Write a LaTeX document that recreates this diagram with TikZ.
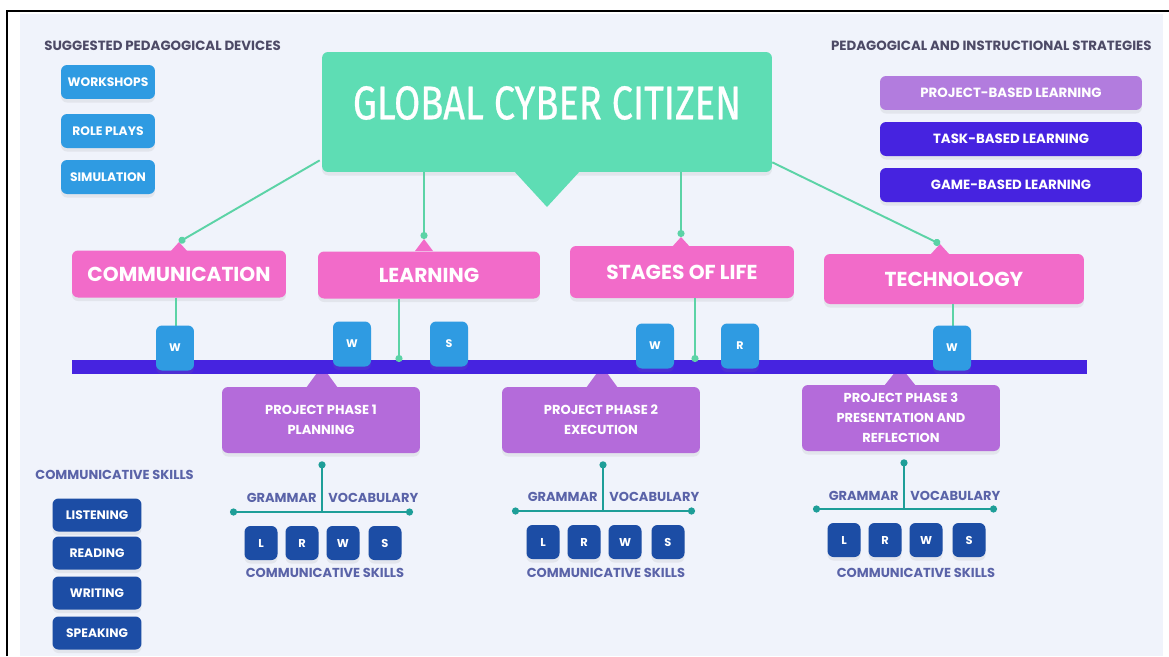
\documentclass[tikz,border=0pt]{standalone}
\usepackage{fontspec}
\setmainfont{Poppins}
\newfontfamily\titlefont[FakeStretch=0.8,FakeBold=0.6]{Fira Sans}
\usepackage{tikz}
\usetikzlibrary{arrows.meta}
\usetikzlibrary{shadows}

\definecolor{panelbg}{HTML}{F0F3FB}
\definecolor{titlegreen}{HTML}{5EDDB4}
\definecolor{linkgreen}{HTML}{5CD3A6}
\definecolor{pinkc}{HTML}{F26BC9}
\definecolor{purplec}{HTML}{B46BDA}
\definecolor{lilac}{HTML}{B27CDE}
\definecolor{violetc}{HTML}{4623E0}
\definecolor{skyblue}{HTML}{2F9BE2}
\definecolor{navyc}{HTML}{1C4DA5}
\definecolor{tealc}{HTML}{1E9E98}
\definecolor{headgray}{HTML}{4D4A66}
\definecolor{labelblue}{HTML}{5A63A8}

\begin{document}
\begin{tikzpicture}[x=0.02cm,y=-0.02cm,
        soft/.style={drop shadow={shadow xshift=0pt,shadow yshift=-2pt,opacity=0.12}},
        box/.style={rounded corners=0.12cm,inner sep=0pt,align=center,text=white,soft},
        heading/.style={inner sep=0pt,text=headgray,font=\fontsize{7.6}{8}\selectfont\bfseries},
        devicebox/.style={box,fill=skyblue,minimum width=1.88cm,minimum height=0.68cm,
            font=\fontsize{7}{8}\selectfont\bfseries},
        stratbox/.style={box,fill=violetc,minimum width=5.24cm,minimum height=0.68cm,
            font=\fontsize{7.6}{9}\selectfont\bfseries},
        topicbox/.style={box,fill=pinkc,minimum height=0.94cm,
            font=\fontsize{11.5}{13}\selectfont\bfseries},
        phasebox/.style={box,fill=purplec,minimum width=3.96cm,minimum height=1.32cm,
            font=\fontsize{7.4}{11.3}\selectfont\bfseries},
        wbox/.style={box,fill=skyblue,minimum width=0.76cm,minimum height=0.9cm,
            font=\fontsize{6.3}{7}\selectfont\bfseries},
        skillbox/.style={box,fill=navyc,minimum width=0.66cm,minimum height=0.68cm,
            font=\fontsize{6.5}{7}\selectfont\bfseries},
        listbox/.style={box,fill=navyc,minimum width=1.78cm,minimum height=0.66cm,
            font=\fontsize{7}{8}\selectfont\bfseries},
        label/.style={inner sep=0pt,text=labelblue,font=\fontsize{7.4}{8}\selectfont\bfseries},
        gline/.style={draw=linkgreen,line width=1.1pt},
        tline/.style={draw=tealc,line width=1.4pt}]

    \useasboundingbox (0,0) rectangle (1169,656);
    \fill[white] (0,0) rectangle (1169,656);
    \fill[panelbg] (20,14) rectangle (1163,656);
    \draw[black,line width=1.2pt] (7,656) -- (7,11) -- (1169,11);

    % headings
    \node[heading,anchor=west] (devhead) at (44,46) {SUGGESTED PEDAGOGICAL DEVICES};
    \node[heading,anchor=east] (strathead) at (1152,46) {PEDAGOGICAL AND INSTRUCTIONAL STRATEGIES};
    \node[label,anchor=west] (skillhead) at (35,475) {COMMUNICATIVE SKILLS};

    % devices
    \node[devicebox] (workshops) at (108,82) {WORKSHOPS};
    \node[devicebox] (roleplays) at (108,131) {ROLE PLAYS};
    \node[devicebox] (simulation) at (108,177) {SIMULATION};

    % strategies
    \node[stratbox,fill=lilac] (pbl) at (1011,93) {PROJECT-BASED LEARNING};
    \node[stratbox] (tbl) at (1011,139) {TASK-BASED LEARNING};
    \node[stratbox] (gbl) at (1011,185) {GAME-BASED LEARNING};

    % skills list
    \node[listbox] (listening) at (97,515) {LISTENING};
    \node[listbox] (reading) at (97,553) {READING};
    \node[listbox] (writing) at (97,593) {WRITING};
    \node[listbox] (speaking) at (97,633) {SPEAKING};

    % title
    \node[box,fill=titlegreen,minimum width=9cm,minimum height=2.4cm] (gcc) at (547,112) {};
    \fill[titlegreen] (513,170) -- (547,207) -- (581,170) -- cycle;
    \node[inner sep=0pt,text=white,font=\titlefont\fontsize{27}{30}\selectfont] (gcctxt) at (547,103) {GLOBAL CYBER CITIZEN};

    % topics
    \node[topicbox,minimum width=4.28cm] (comm) at (179,274) {COMMUNICATION};
    \node[topicbox,minimum width=4.44cm] (learn) at (429,275) {LEARNING};
    \node[topicbox,minimum width=4.48cm,minimum height=1.04cm] (stages) at (682,272) {STAGES OF LIFE};
    \node[topicbox,minimum width=5.2cm,minimum height=1.0cm] (tech) at (954,279) {TECHNOLOGY};
    \coordinate (commtip) at (179,242);
    \coordinate (learntip) at (424,239);
    \coordinate (stagestip) at (681,237);
    \coordinate (techtip) at (940,244);
    \fill[pinkc] (commtip) -- ++(9,10) -- ++(-18,0) -- cycle;
    \fill[pinkc] (learntip) -- ++(9,12) -- ++(-18,0) -- cycle;
    \fill[pinkc] (stagestip) -- ++(9,10) -- ++(-18,0) -- cycle;
    \fill[pinkc] (techtip) -- ++(9,10) -- ++(-18,0) -- cycle;

    % phases
    \fill[purplec] (306,388) -- (322,366) -- (338,388) -- cycle;
    \fill[purplec] (586,388) -- (602,366) -- (618,388) -- cycle;
    \fill[purplec] (884,386) -- (900,366) -- (916,386) -- cycle;
    \node[phasebox] (phase1) at (321,420) {PROJECT PHASE 1\\PLANNING};
    \node[phasebox] (phase2) at (601,420) {PROJECT PHASE 2\\EXECUTION};
    \node[phasebox] (phase3) at (901,418) {PROJECT PHASE 3\\PRESENTATION AND\\REFLECTION};

    % bar
    \node[fill=violetc,inner sep=0pt,minimum width=20.3cm,minimum height=0.28cm] (bar) at (579.5,367) {};

    \coordinate (learndrop) at (399,362);
    \coordinate (stagesdrop) at (695,362);

    \begin{scope}[every path/.style={gline}]
        \draw[-{Circle[length=4pt]}] (gcc.south west) ++(-2,-12) -- (commtip);
        \draw[-{Circle[length=4pt]}] (gcc.south -| learntip) -- (learntip);
        \draw[-{Circle[length=4pt]}] (gcc.south -| stagestip) -- (stagestip);
        \draw[-{Circle[length=4pt]}] (gcc.south east) ++(0,-10) -- (techtip);
        \draw (comm.south -| 176,0) -- (176,326);
        \draw[-{Circle[length=4pt]}] (learn.south -| learndrop) -- (learndrop);
        \draw[-{Circle[length=4pt]}] (stages.south -| stagesdrop) -- (stagesdrop);
        \draw (tech.south -| 953,0) -- (953,326);
    \end{scope}

    % writing / speaking / reading marks
    \node[wbox] (commw) at (175,348) {W};
    \node[wbox] (learnw) at (352,344) {W};
    \node[wbox] (learns) at (449,344) {S};
    \node[wbox] (stagesw) at (655,346) {W};
    \node[wbox] (stagesr) at (740,346) {R};
    \node[wbox] (techw) at (952,348) {W};

    % phase 1 skills
    \coordinate (p1l) at (230,512);
    \coordinate (p1r) at (413,512);
    \draw[tline,{Circle[length=4pt]}-] (phase1.south -| 322,0) ++(0,8) -- (322,512);
    \draw[tline,{Circle[length=4pt]}-{Circle[length=4pt]}] (p1l) -- (p1r);
    \node[label,anchor=east] (p1g) at (317,498) {GRAMMAR};
    \node[label,anchor=west] (p1v) at (328,498) {VOCABULARY};
    \node[skillbox] (p1sl) at (261,543) {L};
    \node[skillbox] (p1sr) at (302,543) {R};
    \node[skillbox] (p1sw) at (343,543) {W};
    \node[skillbox] (p1ss) at (385,543) {S};
    \node[label] (p1cs) at (325,573) {COMMUNICATIVE SKILLS};

    % phase 2 skills
    \coordinate (p2l) at (512,511);
    \coordinate (p2r) at (695,511);
    \draw[tline,{Circle[length=4pt]}-] (phase2.south -| 603,0) ++(0,8) -- (603,511);
    \draw[tline,{Circle[length=4pt]}-{Circle[length=4pt]}] (p2l) -- (p2r);
    \node[label,anchor=east] (p2g) at (598,497) {GRAMMAR};
    \node[label,anchor=west] (p2v) at (609,497) {VOCABULARY};
    \node[skillbox] (p2sl) at (543,542) {L};
    \node[skillbox] (p2sr) at (584,542) {R};
    \node[skillbox] (p2sw) at (625,542) {W};
    \node[skillbox] (p2ss) at (668,542) {S};
    \node[label] (p2cs) at (606,573) {COMMUNICATIVE SKILLS};

    % phase 3 skills
    \coordinate (p3l) at (813,509);
    \coordinate (p3r) at (997,509);
    \draw[tline,{Circle[length=4pt]}-] (phase3.south -| 904,0) ++(0,8) -- (904,509);
    \draw[tline,{Circle[length=4pt]}-{Circle[length=4pt]}] (p3l) -- (p3r);
    \node[label,anchor=east] (p3g) at (899,496) {GRAMMAR};
    \node[label,anchor=west] (p3v) at (910,496) {VOCABULARY};
    \node[skillbox] (p3sl) at (844,540) {L};
    \node[skillbox] (p3sr) at (885,540) {R};
    \node[skillbox] (p3sw) at (926,540) {W};
    \node[skillbox] (p3ss) at (969,540) {S};
    \node[label] (p3cs) at (916,573) {COMMUNICATIVE SKILLS};
\end{tikzpicture}
\end{document}
